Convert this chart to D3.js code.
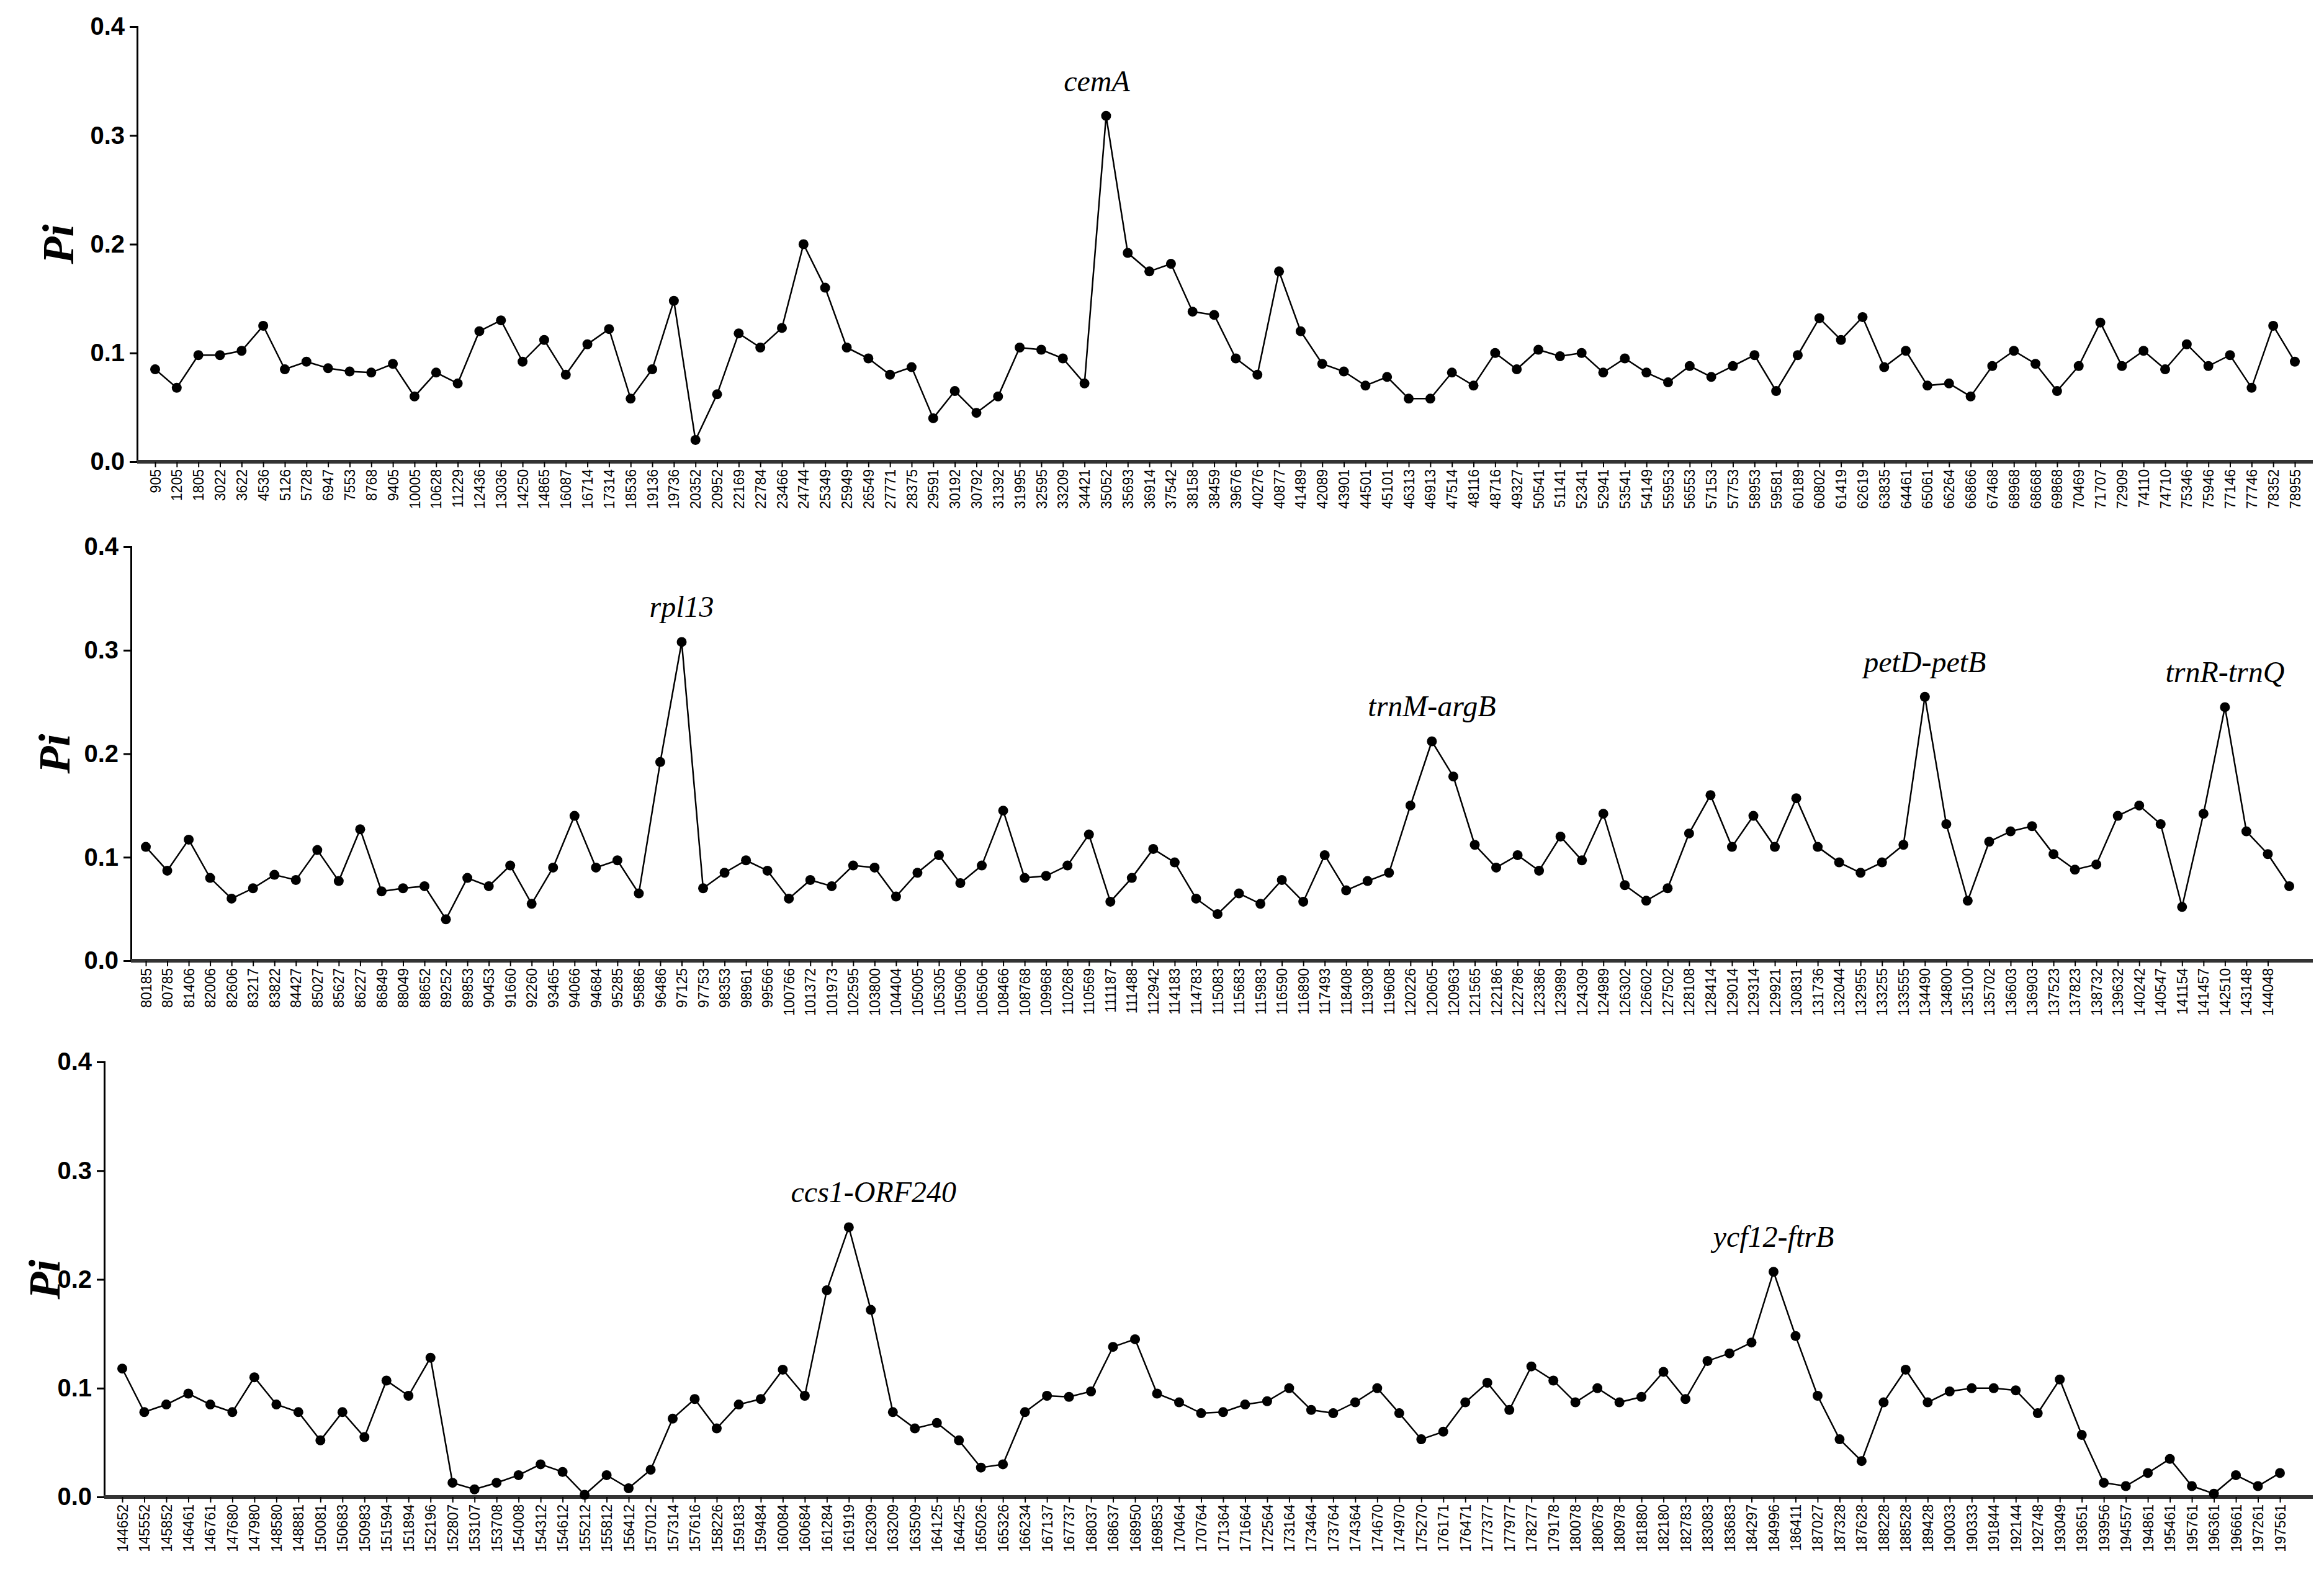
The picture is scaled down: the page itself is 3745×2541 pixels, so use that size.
<!DOCTYPE html>
<html>
<head>
<meta charset="utf-8">
<script src="https://cdn.jsdelivr.net/npm/d3@7"></script>
<style>
body { margin: 0; background: #fff; }
</style>
</head>
<body>
<svg id="chart" width="3745" height="2541"></svg>
<script>
// sliding window positions and Pi values
var labels1 = [905,1205,1805,3022,3622,4536,5126,5728,6947,7553,8768,9405,10005,10628,11229,12436,13036,14250,14865,16087,
16714,17314,18536,19136,19736,20352,20952,22169,22784,23466,24744,25349,25949,26549,27771,28375,29591,30192,30792,31392,
31995,32595,33209,34421,35052,35693,36914,37542,38158,38459,39676,40276,40877,41489,42089,43901,44501,45101,46313,46913,
47514,48116,48716,49327,50541,51141,52341,52941,53541,54149,55953,56553,57153,57753,58953,59581,60189,60802,61419,62619,
63835,64461,65061,66264,66866,67468,68968,68668,69868,70469,71707,72909,74110,74710,75346,75946,77146,77746,78352,78955];
var pi1 = [0.085,0.068,0.098,0.098,0.102,0.125,0.085,0.092,0.086,0.083,0.082,0.090,0.060,0.082,0.072,0.120,0.130,0.092,0.112,0.080,
0.108,0.122,0.058,0.085,0.148,0.020,0.062,0.118,0.105,0.123,0.200,0.160,0.105,0.095,0.080,0.087,0.040,0.065,0.045,0.060,
0.105,0.103,0.095,0.072,0.318,0.192,0.175,0.182,0.138,0.135,0.095,0.080,0.175,0.120,0.090,0.083,0.070,0.078,0.058,0.058,
0.082,0.070,0.100,0.085,0.103,0.097,0.100,0.082,0.095,0.082,0.073,0.088,0.078,0.088,0.098,0.065,0.098,0.132,0.112,0.133,
0.087,0.102,0.070,0.072,0.060,0.088,0.102,0.090,0.065,0.088,0.128,0.088,0.102,0.085,0.108,0.088,0.098,0.068,0.125,0.092];

var labels2 = [80185,80785,81406,82006,82606,83217,83822,84427,85027,85627,86227,86849,88049,88652,89252,89853,90453,91660,92260,93465,
94066,94684,95285,95886,96486,97125,97753,98353,98961,99566,100766,101372,101973,102595,103800,104404,105005,105305,105906,106506,
108466,108768,109968,110268,110569,111187,111488,112942,114183,114783,115083,115683,115983,116590,116890,117493,118408,119308,119608,120226,
120605,120963,121565,122186,122786,123386,123989,124309,124989,126302,126602,127502,128108,128414,129014,129314,129921,130831,131736,132044,
132955,133255,133555,134490,134800,135100,135702,136603,136903,137523,137823,138732,139632,140242,140547,141154,141457,142510,143148,144048];
var pi2 = [0.110,0.087,0.117,0.080,0.060,0.070,0.083,0.078,0.107,0.077,0.127,0.067,0.070,0.072,0.040,0.080,0.072,0.092,0.055,0.090,
0.140,0.090,0.097,0.065,0.192,0.308,0.070,0.085,0.097,0.087,0.060,0.078,0.072,0.092,0.090,0.062,0.085,0.102,0.075,0.092,
0.145,0.080,0.082,0.092,0.122,0.057,0.080,0.108,0.095,0.060,0.045,0.065,0.055,0.078,0.057,0.102,0.068,0.077,0.085,0.150,
0.212,0.178,0.112,0.090,0.102,0.087,0.120,0.097,0.142,0.073,0.058,0.070,0.123,0.160,0.110,0.140,0.110,0.157,0.110,0.095,
0.085,0.095,0.112,0.255,0.132,0.058,0.115,0.125,0.130,0.103,0.088,0.093,0.140,0.150,0.132,0.052,0.142,0.245,0.125,0.103,0.072];

var labels3 = [144652,145552,145852,146461,146761,147680,147980,148580,148881,150081,150683,150983,151594,151894,152196,152807,153107,153708,154008,154312,
154612,155212,155812,156412,157012,157314,157616,158226,159183,159484,160084,160684,161284,161919,162309,163209,163509,164125,164425,165026,
165326,166234,167137,167737,168037,168637,168950,169853,170464,170764,171364,171664,172564,173164,173464,173764,174364,174670,174970,175270,
176171,176471,177377,177977,178277,179178,180078,180678,180978,181880,182180,182783,183083,183683,184297,184996,186411,187027,187328,187628,
188228,188528,189428,190033,190333,191844,192144,192748,193049,193651,193956,194557,194861,195461,195761,196361,196661,197261,197561];
var pi3 = [0.118,0.078,0.085,0.095,0.085,0.078,0.110,0.085,0.078,0.052,0.078,0.055,0.107,0.093,0.128,0.013,0.007,0.013,0.020,0.030,
0.023,0.002,0.020,0.008,0.025,0.072,0.090,0.063,0.085,0.090,0.117,0.093,0.190,0.248,0.172,0.078,0.063,0.068,0.052,0.027,
0.030,0.078,0.093,0.092,0.097,0.138,0.145,0.095,0.087,0.077,0.078,0.085,0.088,0.100,0.080,0.077,0.087,0.100,0.077,0.053,
0.060,0.087,0.105,0.080,0.120,0.107,0.087,0.100,0.087,0.092,0.115,0.090,0.125,0.132,0.142,0.207,0.148,0.093,0.053,0.033,
0.087,0.117,0.087,0.097,0.100,0.100,0.098,0.077,0.108,0.057,0.013,0.010,0.022,0.035,0.010,0.003,0.020,0.010,0.022];

var yTicks = [0, 0.1, 0.2, 0.3, 0.4];

var notes1 = [{i: 44, text: "cemA", dx: -15}];
var notes2 = [{i: 25, text: "rpl13"}, {i: 60, text: "trnM-argB"}, {i: 83, text: "petD-petB"}, {i: 97, text: "trnR-trnQ"}];
var notes3 = [{i: 33, text: "ccs1-ORF240", dx: 40}, {i: 75, text: "ycf12-ftrB"}];

var svg = d3.select("#chart");

function panel(labels, vals, notes, box) {
    var g = svg.append("g");
    var x = d3.scaleLinear().domain([0, vals.length - 1]).range([box.x0, box.x1]);
    var y = d3.scaleLinear().domain([0, 0.4]).range([box.y0, box.y4]);

    // y axis
    var yAxis = d3.axisLeft(y).tickValues(yTicks).tickFormat(d3.format(".1f")).tickSize(12).tickPadding(8);
    var ya = g.append("g").attr("transform", "translate(" + box.left + ",0)").call(yAxis);
    ya.select(".domain").attr("stroke-width", 3);
    ya.selectAll(".tick line").attr("stroke-width", 3);
    ya.selectAll("text").attr("font-family", "Liberation Sans, Arial").attr("font-weight", "bold").attr("font-size", 40);

    // x axis, index based
    var idx = d3.range(labels.length);
    var xAxis = d3.axisBottom(x).tickValues(idx).tickFormat(function(i){ return labels[i]; }).tickSize(9).tickSizeOuter(0).tickPadding(5);
    var xa = g.append("g").attr("transform", "translate(0," + box.y0 + ")").call(xAxis);
    xa.select(".domain").attr("d", "M" + box.left + ",0H" + box.right).attr("stroke", "#333").attr("stroke-width", 6);
    xa.selectAll(".tick line").attr("stroke-width", 2);
    xa.selectAll("text")
        .attr("font-family", "Liberation Sans, Arial")
        .attr("font-size", 23)
        .attr("transform", "rotate(-90)")
        .attr("text-anchor", "end")
        .attr("x", -12).attr("y", 0).attr("dy", "0.35em");

    // y title
    g.append("text")
        .attr("transform", "translate(" + box.titleX + "," + y(0.2) + ") rotate(-90)")
        .attr("text-anchor", "middle")
        .attr("font-family", "Liberation Serif, Times New Roman")
        .attr("font-weight", "bold").attr("font-style", "italic")
        .attr("font-size", 72)
        .text("Pi");

    var line = d3.line().x(function(d, i){ return x(i); }).y(function(d){ return y(d); });
    g.append("path").datum(vals).attr("d", line).attr("fill", "none").attr("stroke", "#000").attr("stroke-width", 2.5);
    g.selectAll("circle.pt").data(vals).enter().append("circle")
        .attr("cx", function(d, i){ return x(i); })
        .attr("cy", function(d){ return y(d); })
        .attr("r", 8).attr("fill", "#000");

    g.selectAll("text.note").data(notes).enter().append("text")
        .attr("x", function(d){ return x(d.i) + (d.dx || 0); })
        .attr("y", function(d){ return y(vals[d.i]) - 40; })
        .attr("text-anchor", "middle")
        .attr("font-family", "Liberation Serif, Times New Roman")
        .attr("font-style", "italic")
        .attr("font-size", 48)
        .text(function(d){ return d.text; });
}

panel(labels1, pi1, notes1, {left: 221, right: 3727, x0: 250, x1: 3698, y0: 744, y4: 43, titleX: 118});
panel(labels2, pi2, notes2, {left: 211, right: 3727, x0: 235, x1: 3689, y0: 1548, y4: 881, titleX: 112});
panel(labels3, pi3, notes3, {left: 168, right: 3727, x0: 197, x1: 3674, y0: 2412, y4: 1711, titleX: 96});
</script>
</body>
</html>
